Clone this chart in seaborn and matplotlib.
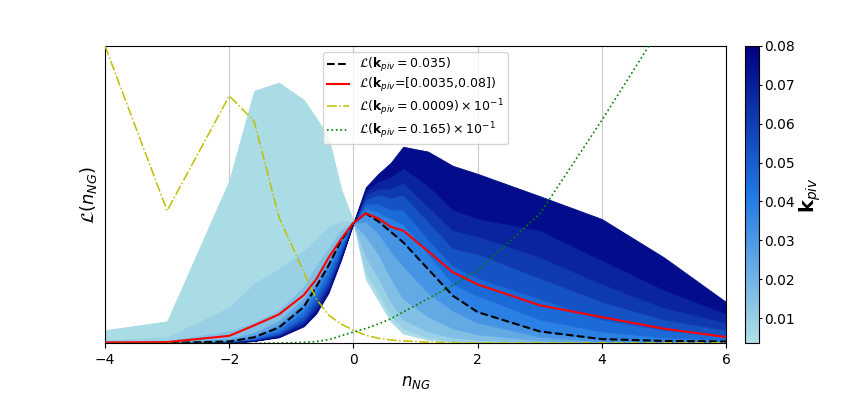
import numpy as np
import pandas as pd
import matplotlib
matplotlib.use('Agg')
import matplotlib.pyplot as plt
import seaborn as sns
from matplotlib.colors import LinearSegmentedColormap, Normalize
from matplotlib.cm import ScalarMappable

# n_NG grid
n_ng = [-4, -3, -2, -1.6, -1.2, -0.8, -0.6, -0.4, -0.2, 0, 0.2, 0.4, 0.6, 0.8, 1.2, 1.6, 2, 3, 4, 5, 6]

k_key = [0.0035, 0.007, 0.012, 0.02, 0.028, 0.035, 0.042, 0.05, 0.058, 0.065, 0.072, 0.08]
L_k0035 = [0.044, 0.074, 0.547, 0.849, 0.877, 0.819, 0.758, 0.691, 0.52, 0.41, 0.215, 0.145, 0.074, 0.033, 0.012, 0.004, 0.001, 0, 0, 0, 0]
L_k007 = [0.01, 0.02, 0.12, 0.2, 0.25, 0.31, 0.35, 0.39, 0.41, 0.408, 0.24, 0.17, 0.095, 0.05, 0.02, 0.008, 0.004, 0.001, 0, 0, 0]
L_k012 = [0.004, 0.008, 0.04, 0.07, 0.11, 0.19, 0.26, 0.32, 0.38, 0.406, 0.29, 0.22, 0.14, 0.08, 0.04, 0.02, 0.012, 0.003, 0.001, 0, 0]
L_k020 = [0.001, 0.003, 0.015, 0.035, 0.075, 0.15, 0.215, 0.285, 0.36, 0.405, 0.36, 0.30, 0.22, 0.15, 0.09, 0.05, 0.03, 0.01, 0.003, 0.002, 0.001]
L_k028 = [0, 0.001, 0.009, 0.026, 0.062, 0.135, 0.2, 0.27, 0.35, 0.405, 0.41, 0.37, 0.31, 0.26, 0.17, 0.11, 0.07, 0.022, 0.007, 0.004, 0.003]
L_k035 = [0.0, 0.001, 0.006, 0.02, 0.053, 0.122, 0.19, 0.262, 0.345, 0.405, 0.437, 0.41, 0.375, 0.34, 0.25, 0.16, 0.105, 0.04, 0.014, 0.008, 0.006]
L_k042 = [0, 0, 0.004, 0.015, 0.043, 0.105, 0.168, 0.24, 0.33, 0.405, 0.455, 0.44, 0.42, 0.40, 0.30, 0.20, 0.16, 0.08, 0.04, 0.02, 0.012]
L_k050 = [0, 0, 0.003, 0.012, 0.035, 0.09, 0.15, 0.22, 0.315, 0.405, 0.47, 0.47, 0.45, 0.45, 0.35, 0.26, 0.22, 0.15, 0.08, 0.045, 0.025]
L_k058 = [0, 0, 0.003, 0.01, 0.03, 0.078, 0.133, 0.203, 0.3, 0.405, 0.485, 0.50, 0.49, 0.50, 0.41, 0.32, 0.30, 0.22, 0.14, 0.08, 0.045]
L_k065 = [0, 0, 0.002, 0.009, 0.026, 0.07, 0.12, 0.19, 0.29, 0.405, 0.50, 0.52, 0.52, 0.54, 0.46, 0.38, 0.36, 0.29, 0.2, 0.12, 0.07]
L_k072 = [0, 0, 0.002, 0.008, 0.023, 0.063, 0.11, 0.18, 0.285, 0.405, 0.513, 0.545, 0.56, 0.59, 0.53, 0.45, 0.42, 0.38, 0.28, 0.18, 0.1]
L_k080 = [0, 0, 0.002, 0.008, 0.02, 0.057, 0.10, 0.17, 0.28, 0.405, 0.525, 0.57, 0.607, 0.661, 0.645, 0.597, 0.57, 0.495, 0.418, 0.289, 0.139]
fan = [L_k0035, L_k007, L_k012, L_k020, L_k028, L_k035, L_k042, L_k050, L_k058, L_k065, L_k072, L_k080]

# combined and reference curves
L_comb = [0.003, 0.004, 0.025, 0.06, 0.097, 0.162, 0.215, 0.288, 0.35, 0.405, 0.437, 0.42, 0.392, 0.379, 0.31, 0.239, 0.198, 0.128, 0.088, 0.049, 0.021]
L_k0009 = [1.0, 0.446, 0.832, 0.748, 0.425, 0.24, 0.15, 0.095, 0.065, 0.044, 0.027, 0.017, 0.011, 0.008, 0.004, 0.002, 0.001, 0.001, 0.001, 0.001, 0.001]
L_k165 = [0, 0, 0, 0, 0.001, 0.003, 0.006, 0.012, 0.025, 0.038, 0.05, 0.065, 0.082, 0.105, 0.15, 0.195, 0.245, 0.435, 0.75, 1.08, 1.5]

cmap = LinearSegmentedColormap.from_list('kpiv', ['#b0e0e6', '#1f78e3', '#000080'])
norm = Normalize(vmin=0.0035, vmax=0.08)

fig = plt.figure(figsize=(8.43, 3.93), dpi=100)
ax = fig.add_axes([0.1246, 0.1265, 0.7366, 0.7565])
cax = fig.add_axes([0.8837, 0.1265, 0.0172, 0.7565])

# fan of k_piv curves, light to dark
for i in range(len(k_key) - 1):
    c = cmap(norm(0.5 * (k_key[i] + k_key[i + 1])))
    ax.fill_between(n_ng, fan[i], fan[i + 1], color=c, ec=c, lw=0.6, zorder=1)

sns.lineplot(x=n_ng, y=L_k035, ax=ax, color='k', linestyle='--', lw=1.5,
             label=r'$\mathcal{L}(\mathbf{k}_{piv}=0.035)$', zorder=3)
sns.lineplot(x=n_ng, y=L_comb, ax=ax, color='r', linestyle='-', lw=1.5,
             label=r'$\mathcal{L}(\mathbf{k}_{piv}$=[0.0035,0.08])', zorder=3)
sns.lineplot(x=n_ng, y=L_k0009, ax=ax, color='y', linestyle='-.', lw=1.1,
             label=r'$\mathcal{L}(\mathbf{k}_{piv}=0.0009)\times10^{-1}$', zorder=3)
sns.lineplot(x=n_ng, y=L_k165, ax=ax, color='g', linestyle=':', lw=1.2,
             label=r'$\mathcal{L}(\mathbf{k}_{piv}=0.165)\times10^{-1}$', zorder=3)

ax.set_xlim(-4, 6)
ax.set_ylim(0, 1.0)
ax.set_yticks([])
ax.set_xticks([-4, -2, 0, 2, 4, 6])
ax.tick_params(axis='x', labelsize=10)
ax.grid(axis='x', color='#c8c8c8', lw=0.8)
ax.set_axisbelow(True)
ax.set_xlabel(r'$n_{NG}$', fontsize=12)
ax.set_ylabel(r'$\mathcal{L}(n_{NG})$', fontsize=13)
ax.legend(loc='upper center', fontsize=9, labelspacing=0.2, borderpad=0.3,
          handlelength=1.8)

cbar = fig.colorbar(ScalarMappable(norm=norm, cmap=cmap), cax=cax)
cbar.set_ticks([0.01, 0.02, 0.03, 0.04, 0.05, 0.06, 0.07, 0.08])
cbar.ax.tick_params(labelsize=10, length=2, pad=1.5)
cbar.set_label(r'$\mathbf{k}_{piv}$', fontsize=14, labelpad=2)

fig.savefig('out.png', dpi=100)
